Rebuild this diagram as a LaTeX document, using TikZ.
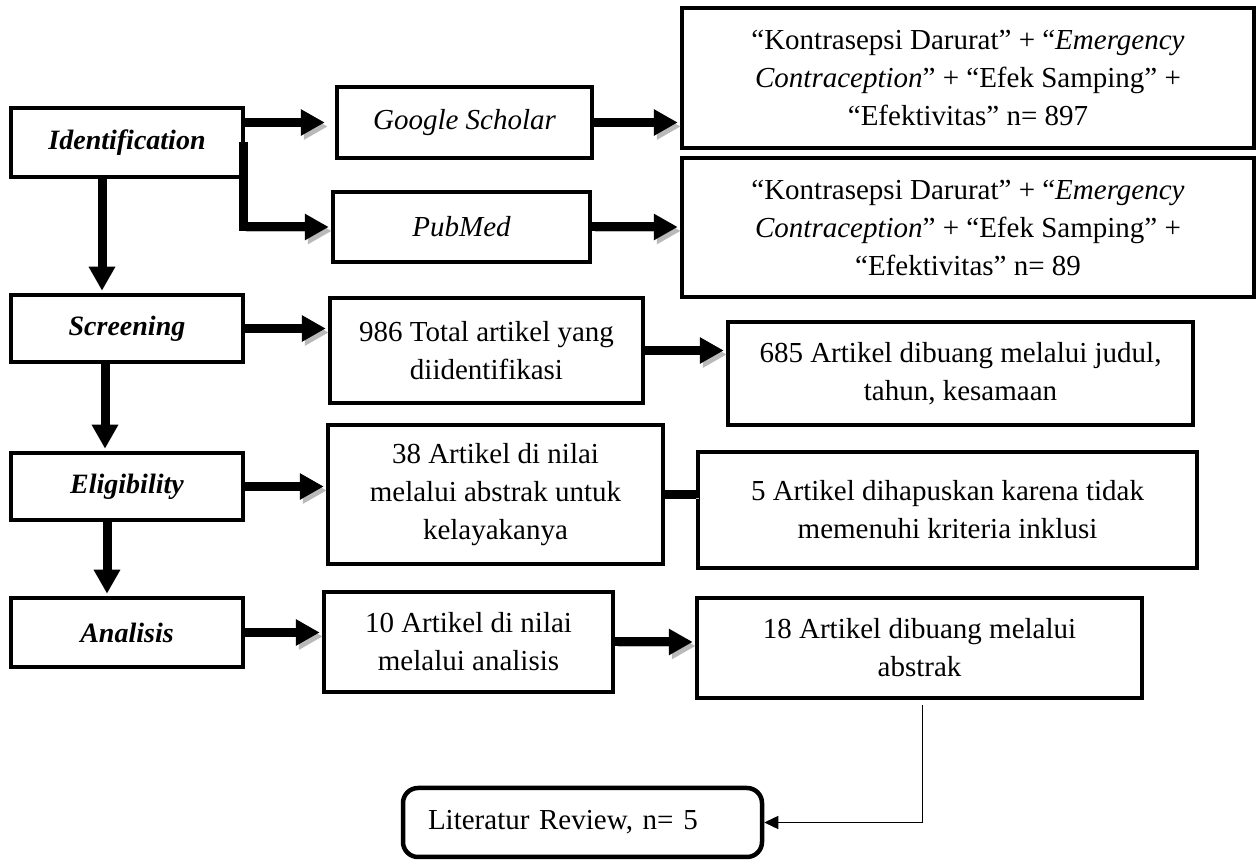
\documentclass[tikz,border=0pt]{standalone}
\usepackage{fontspec}
\setmainfont{Liberation Serif}
\usetikzlibrary{arrows.meta}

\newcommand{\txtsize}{\fontsize{14.5}{19}\selectfont}
\newcommand{\stagesize}{\fontsize{14}{17}\selectfont\bfseries\itshape}

\tikzset{
    box/.style={draw, line width=2.25pt, inner sep=0pt, align=center, font=\txtsize},
    stage/.style={box, minimum width=116pt, font=\stagesize},
    fat/.style={line width=4.5pt, -{Triangle[length=12pt,width=12.5pt]}, shorten >=1pt},
    shade/.style={preaction={draw=gray!55, transform canvas={shift={(1.5pt,-2pt)}}}},
    fatshade/.style={fat, shade},
    joinline/.style={line width=4.5pt, shade},
    thinarrow/.style={line width=0.7pt, -{Triangle[length=7pt,width=6.5pt]}}
}

\begin{document}
\begin{tikzpicture}[x=0.5pt, y=-0.5pt]
    \useasboundingbox (0,0) rectangle (1260,860);

    % stages
    \node[stage, minimum height=34.5pt] (ident) at (127,142.5) {Identification};
    \node[stage, minimum height=33.5pt] (scr) at (127,328.5) {Screening};
    \node[stage, minimum height=33.5pt] (elig) at (127,486.5) {Eligibility};
    \node[stage, minimum height=34.5pt] (anal) at (127,632.5) {Analisis};

    % sources
    \node[box, minimum width=127.5pt, minimum height=35.5pt] (gs) at (464.5,122.5) {\itshape Google Scholar};
    \node[box, minimum width=128.5pt, minimum height=35pt] (pm) at (461.5,227) {\itshape PubMed};
        \node[box, minimum width=286pt, minimum height=70pt] (q1) at (968,78)
            {“Kontrasepsi Darurat” + “\textit{Emergency}\\\textit{Contraception}” + “Efek Samping” +\\“Efektivitas” n= 897};
        \node[box, minimum width=286pt, minimum height=69.5pt] (q2) at (968,227.5)
            {“Kontrasepsi Darurat” + “\textit{Emergency}\\\textit{Contraception}” + “Efek Samping” +\\“Efektivitas” n= 89};

    % counts
    \node[box, minimum width=156.5pt, minimum height=52.5pt] (tot) at (486.5,350.5) {986 Total artikel yang\\diidentifikasi};
    \node[box, minimum width=232.5pt, minimum height=51.5pt] (dup) at (960.5,373.5) {685 Artikel dibuang melalui judul,\\tahun, kesamaan};
    \node[box, minimum width=167.5pt, minimum height=69.5pt] (crit) at (495.5,494.5) {38 Artikel di nilai\\melalui abstrak untuk\\kelayakanya};
    \node[box, minimum width=249.5pt, minimum height=58pt] (excl) at (947.5,510) {5 Artikel dihapuskan karena tidak\\memenuhi kriteria inklusi};
    \node[box, minimum width=144.5pt, minimum height=50pt] (ten) at (468.5,642) {10 Artikel di nilai\\melalui analisis};
    \node[box, minimum width=222.5pt, minimum height=50pt] (abst) at (919.5,648) {18 Artikel dibuang melalui\\abstrak};

    \node[box, rounded corners=7.5pt, minimum height=34.5pt, text width=154.5pt, inner xsep=12.5pt, align=left] (lit) at (582.5,822.5) {Literatur Review, n= 5};

    % arrows
    \draw[fatshade, shorten >=5pt] (ident.east |- gs.west) -- (gs.west);
    \draw[fatshade] ([xshift=-1pt]ident.east) |- (pm.west);
    \draw[fatshade] (gs.east) -- (gs.east -| q1.west);
    \draw[fatshade] (pm.east) -- (pm.east -| q2.west);

    \draw[fat] ([xshift=-12.5pt]ident.south) -- ([xshift=-12.5pt]ident.south |- scr.north);
    \draw[fat] ([xshift=-11pt]scr.south) -- ([xshift=-11pt]scr.south |- elig.north);
    \draw[fat] ([xshift=-10pt]elig.south) -- ([xshift=-10pt]elig.south |- anal.north);

    \draw[fatshade] (scr.east) -- (scr.east -| tot.west);
    \draw[fatshade] (tot.east) -- (tot.east -| dup.west);
    \draw[fatshade] (elig.east) -- (elig.east -| crit.west);
    \draw[joinline] (crit.east) -- (crit.east -| excl.west);
    \draw[fatshade] (anal.east) -- (anal.east -| ten.west);
    \draw[fatshade] (ten.east) -- (ten.east -| abst.west);

    \draw[thinarrow] ([xshift=1.5pt,yshift=-2.5pt]abst.south) |- (lit.east);
\end{tikzpicture}
\end{document}
